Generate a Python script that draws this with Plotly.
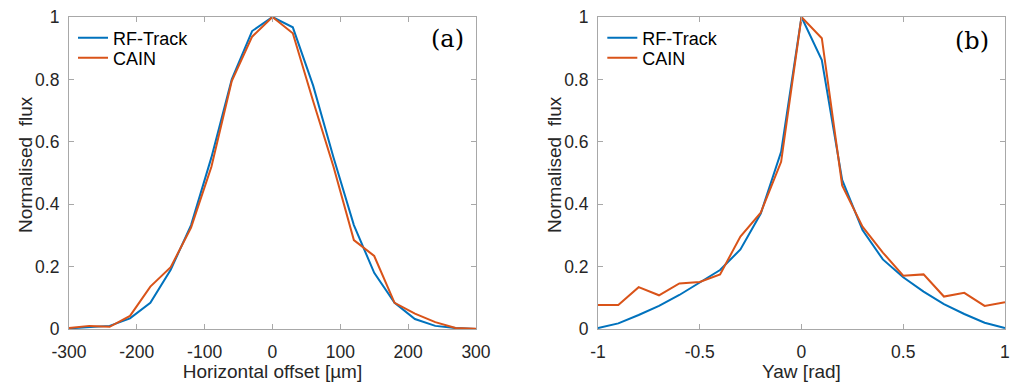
import plotly.graph_objects as go

# Panel (a)
offset_um = [-300, -270, -240, -210, -180, -150, -120, -90, -60, -30, 0,
             30, 60, 90, 120, 150, 180, 210, 240, 270, 300]
rf_a = [0.002, 0.005, 0.010, 0.034, 0.084, 0.190, 0.333, 0.550, 0.800, 0.955, 1.000,
        0.967, 0.780, 0.550, 0.333, 0.180, 0.084, 0.032, 0.010, 0.003, 0.000]
cain_a = [0.003, 0.010, 0.007, 0.042, 0.136, 0.198, 0.325, 0.520, 0.795, 0.937, 1.000,
          0.948, 0.730, 0.520, 0.285, 0.234, 0.084, 0.049, 0.022, 0.003, 0.001]

# Panel (b)
yaw_rad = [-1.0, -0.9, -0.8, -0.7, -0.6, -0.5, -0.4, -0.3, -0.2, -0.1, 0.0,
           0.1, 0.2, 0.3, 0.4, 0.5, 0.6, 0.7, 0.8, 0.9, 1.0]
rf_b = [0.003, 0.018, 0.045, 0.074, 0.109, 0.148, 0.189, 0.255, 0.370, 0.568, 1.000,
        0.862, 0.478, 0.317, 0.223, 0.166, 0.120, 0.080, 0.048, 0.020, 0.003]
cain_b = [0.077, 0.077, 0.134, 0.108, 0.146, 0.151, 0.175, 0.296, 0.373, 0.536, 1.000,
          0.932, 0.460, 0.328, 0.245, 0.171, 0.175, 0.104, 0.116, 0.074, 0.086]

x_ticks_a = [-300, -200, -100, 0, 100, 200, 300]
x_labels_a = ["-300", "-200", "-100", "0", "100", "200", "300"]
x_ticks_b = [-1, -0.5, 0, 0.5, 1]
x_labels_b = ["-1", "-0.5", "0", "0.5", "1"]
y_ticks = [0, 0.2, 0.4, 0.6, 0.8, 1]
y_labels = ["0", "0.2", "0.4", "0.6", "0.8", "1"]

BLUE = "#0072BD"
ORANGE = "#D95319"
AX = "#a8a8a8"
TXT = "#262626"
FONT = "Liberation Sans, Arial, sans-serif"
SERIF = "DejaVu Serif, Liberation Serif, serif"

W, H, T, B = 1014, 382, 17, 53


def py(pix):
    return 1 - (pix - T) / (H - T - B)


fig = go.Figure()
fig.add_trace(go.Scatter(x=offset_um, y=rf_a, mode="lines", name="RF-Track",
                         line=dict(color=BLUE, width=2), xaxis="x", yaxis="y", legend="legend"))
fig.add_trace(go.Scatter(x=offset_um, y=cain_a, mode="lines", name="CAIN",
                         line=dict(color=ORANGE, width=2), xaxis="x", yaxis="y", legend="legend3"))
fig.add_trace(go.Scatter(x=yaw_rad, y=rf_b, mode="lines", name="RF-Track",
                         line=dict(color=BLUE, width=2), xaxis="x2", yaxis="y2", legend="legend2"))
fig.add_trace(go.Scatter(x=yaw_rad, y=cain_b, mode="lines", name="CAIN",
                         line=dict(color=ORANGE, width=2), xaxis="x2", yaxis="y2", legend="legend4"))

axis_common = dict(showline=True, linecolor=AX, linewidth=1, mirror="allticks",
                   ticks="inside", ticklen=5, tickcolor=AX, showgrid=False, zeroline=False,
                   automargin=False,
                   tickfont=dict(family=FONT, size=17.5, color=TXT),
                   title_font=dict(family=FONT, size=19, color=TXT))

legend_common = dict(xanchor="left", yanchor="middle", bgcolor="rgba(0,0,0,0)",
                     font=dict(family=FONT, size=18, color="black"), itemwidth=30,
                     tracegroupgap=0)

ytitle_font = dict(family=FONT, size=19, color=TXT)

fig.update_layout(
    width=W, height=H,
    margin=dict(l=0, r=0, t=T, b=B, autoexpand=False),
    paper_bgcolor="white", plot_bgcolor="white",
    showlegend=True,
    xaxis=dict(domain=[0.068, 0.4694], range=[-300, 300], tickvals=x_ticks_a, ticktext=x_labels_a,
               ticklabelstandoff=7,
               title=dict(text="Horizontal offset [µm]", standoff=0), anchor="y", **axis_common),
    yaxis=dict(domain=[0, 1], range=[0, 1], tickvals=y_ticks, ticktext=y_labels,
               ticklabelstandoff=5, anchor="x", **axis_common),
    xaxis2=dict(domain=[0.5897, 0.9911], range=[-1, 1], tickvals=x_ticks_b, ticktext=x_labels_b,
                ticklabelstandoff=7,
                title=dict(text="Yaw [rad]", standoff=0), anchor="y2", **axis_common),
    yaxis2=dict(domain=[0, 1], range=[0, 1], tickvals=y_ticks, ticktext=y_labels,
                ticklabelstandoff=5, anchor="x2", **axis_common),
    legend=dict(x=0.072, y=py(38), **legend_common),
    legend3=dict(x=0.072, y=py(58), **legend_common),
    legend2=dict(x=0.594, y=py(38), **legend_common),
    legend4=dict(x=0.594, y=py(58), **legend_common),
    annotations=[
        dict(text="(a)", x=466 / W, y=py(39), xref="paper", yref="paper", xanchor="right",
             yanchor="middle", showarrow=False,
             font=dict(family=SERIF, size=24, color="black")),
        dict(text="(b)", x=991 / W, y=py(41), xref="paper", yref="paper", xanchor="right",
             yanchor="middle", showarrow=False,
             font=dict(family=SERIF, size=24, color="black")),
        dict(text="Normalised  flux", x=25 / W, y=py(165), xref="paper", yref="paper",
             xanchor="center", yanchor="middle", textangle=-90, showarrow=False,
             font=ytitle_font),
        dict(text="Normalised  flux", x=554 / W, y=py(165), xref="paper", yref="paper",
             xanchor="center", yanchor="middle", textangle=-90, showarrow=False,
             font=ytitle_font),
    ],
)

fig.write_html("out.html")
